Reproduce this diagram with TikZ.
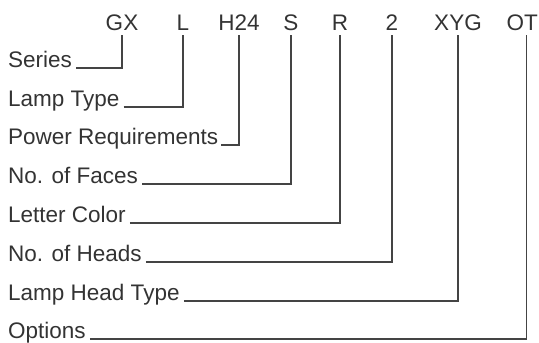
\documentclass[tikz,border=0pt]{standalone}
\usepackage{fontspec}
\setmainfont{Liberation Sans}
\definecolor{ink}{HTML}{333333}
\definecolor{wire}{HTML}{444444}
\begin{document}
\begin{tikzpicture}[x=1pt,y=-1pt,
  code/.style={anchor=base,inner sep=0pt,text=ink,font=\fontsize{22.5}{24}\selectfont},
  lab/.style={anchor=base west,inner sep=0pt,text=ink,font=\fontsize{22.5}{24}\selectfont},
  conn/.style={draw=wire,line width=1.2pt}]
\useasboundingbox (0,0) rectangle (539,343);
% codes
\node[code] (gx)  at (122,30) {GX};
\node[code] (l)   at (183,30) {L};
\node[code] (h24) at (239,30) {H24};
\node[code] (s)   at (291,30) {S};
\node[code] (r)   at (340,30) {R};
\node[code] (two) at (392,30) {2};
\node[code] (xyg) at (458,30) {XYG};
\node[code,anchor=base east] (ot) at (538,30) {OT};
% labels
\node[lab] (series) at (8,67)  {Series};
\node[lab] (lamp)   at (8,106) {Lamp Type};
\node[lab] (power)  at (8,144) {Power Requirements};
\node[lab] (faces)  at (8,183) {No. of Faces};
\node[lab] (color)  at (8,222) {Letter Color};
\node[lab] (heads)  at (8,261) {No. of Heads};
\node[lab] (htype)  at (8,300) {Lamp Head Type};
\node[lab] (opts)   at (8,338) {Options};
% connectors
\draw[conn] ([xshift=4pt,yshift=-1pt]series.base east) -| ([yshift=-5pt]gx.south);
\draw[conn] ([xshift=4pt,yshift=-1pt]lamp.base east) -| ([yshift=-5pt]l.south);
\draw[conn] ([xshift=3pt,yshift=-1pt]power.base east) -| ([yshift=-5pt]h24.south);
\draw[conn] ([xshift=4pt,yshift=-1pt]faces.base east) -| ([yshift=-5pt]s.south);
\draw[conn] ([xshift=4pt,yshift=-1pt]color.base east) -| ([yshift=-5pt]r.south);
\draw[conn] ([xshift=4pt,yshift=-1pt]heads.base east) -| ([yshift=-5pt]two.south);
\draw[conn] ([xshift=4pt,yshift=-1pt]htype.base east) -| ([yshift=-5pt]xyg.south);
\draw[conn] ([xshift=4pt,yshift=-1pt]opts.base east) -| ([xshift=4pt,yshift=-5pt]ot.south);
\end{tikzpicture}
\end{document}
